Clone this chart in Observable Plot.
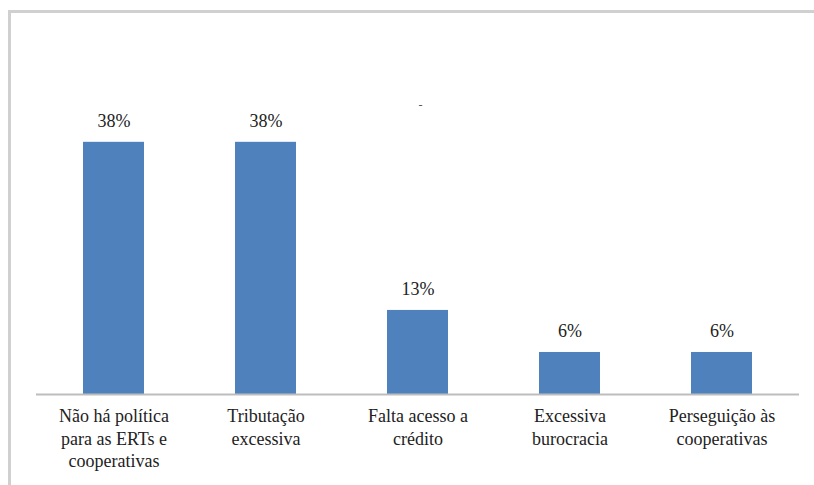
<!DOCTYPE html>
<html>
<head>
<meta charset="utf-8">
<script src="https://cdn.jsdelivr.net/npm/d3@7"></script>
<script src="https://cdn.jsdelivr.net/npm/@observablehq/plot@0.6"></script>
</head>
<body style="margin:0;padding:0;background:#fff">
<div id="wrap" style="position:relative;width:814px;height:485px;overflow:hidden">
  <div style="position:absolute;left:8px;top:10px;width:830px;height:500px;border-top:3px solid #d0d0d0;border-left:3px solid #d0d0d0"></div>
  <div id="chart" style="position:absolute;left:0;top:0"></div>
</div>
<script>
const categories = [
  "Não há política\npara as ERTs e\ncooperativas",
  "Tributação\nexcessiva",
  "Falta acesso a\ncrédito",
  "Excessiva\nburocracia",
  "Perseguição às\ncooperativas"
];
const values = [37.5, 37.5, 12.5, 6.25, 6.25];
const valueLabels = ["38%", "38%", "13%", "6%", "6%"];

const data = categories.map((c, i) => ({cat: c, value: values[i], label: valueLabels[i]}));
const serifFont = "Liberation Serif, Tinos, Times New Roman, serif";

const chart = Plot.plot({
  width: 814,
  height: 485,
  marginLeft: 36,
  marginRight: 15,
  marginTop: 125,
  marginBottom: 91,
  style: {fontFamily: serifFont, fontSize: "18px", background: "transparent"},
  x: {domain: categories, paddingInner: 0.6, paddingOuter: 0.3, axis: null},
  y: {domain: [0, 40], axis: null},
  marks: [
    Plot.barY(data, {x: "cat", y: "value", fill: "#4f81bd"}),
    Plot.ruleY([0], {stroke: "#bdbdbd", strokeWidth: 2}),
    Plot.text(data, {x: "cat", y: "value", text: "label", dy: -21, lineAnchor: "middle", fill: "#222", fontSize: 18}),
    Plot.text(data, {x: "cat", text: "cat", frameAnchor: "bottom", lineAnchor: "top", dy: 12, lineHeight: 1.25, fill: "#222", fontSize: 18}),
    Plot.text(["-"], {frameAnchor: "top", dx: 2.5, dy: -25, text: d => d, fill: "#555", fontSize: 12})
  ]
});
document.getElementById("chart").appendChild(chart);
d3.select(chart).selectAll("text, tspan")
  .attr("font-family", serifFont)
  .style("font-family", serifFont, "important");
</script>
</body>
</html>
